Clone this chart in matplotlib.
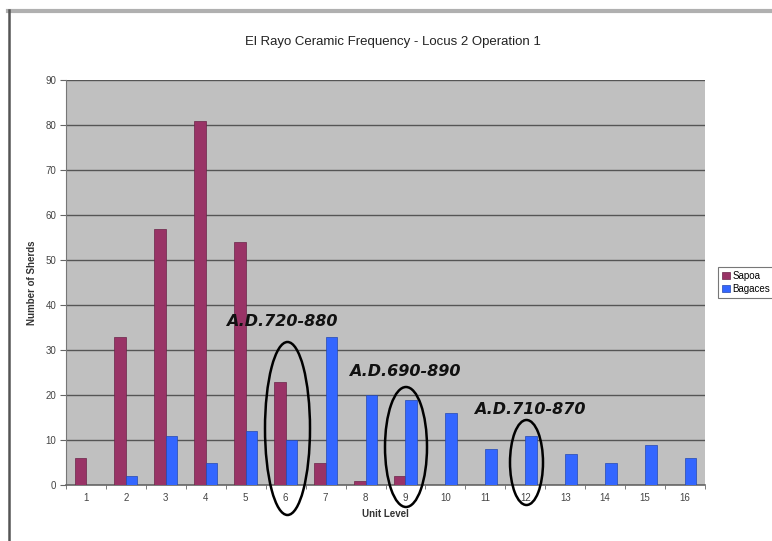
import matplotlib
matplotlib.use("Agg")
import matplotlib.pyplot as plt
from matplotlib.patches import Ellipse
from matplotlib.lines import Line2D
import numpy as np

plt.rcParams['font.family'] = ['Liberation Sans', 'DejaVu Sans']

levels = [str(i) for i in range(1, 17)]
sapoa = [6, 33, 57, 81, 54, 23, 5, 1, 2, 0, 0, 0, 0, 0, 0, 0]
bagaces = [0, 2, 11, 5, 12, 10, 33, 20, 19, 16, 8, 11, 7, 5, 9, 6]
yticks = [0, 10, 20, 30, 40, 50, 60, 70, 80, 90]

annotations = ["A.D.720-880", "A.D.690-890", "A.D.710-870"]

W, H = 772, 541
fig = plt.figure(figsize=(W / 100, H / 100), dpi=100)
fig.patch.set_facecolor('white')

left, right, top, bottom = 66, 705, 80, 485
ax = fig.add_axes([left / W, 1 - bottom / H, (right - left) / W, (bottom - top) / H])
ax.set_facecolor('#c0c0c0')

x = np.arange(1, 17)
bw = 1 / 3.5
ax.bar(x - bw / 2, sapoa, width=bw, color='#993366', edgecolor='#6a2448', linewidth=0.5, label='Sapoa', zorder=3)
ax.bar(x + bw / 2, bagaces, width=bw, color='#3366ff', edgecolor='#2448b0', linewidth=0.5, label='Bagaces', zorder=3)

ax.set_xlim(0.5, 16.5)
ax.set_ylim(0, 90)
ax.set_yticks(yticks)
ax.set_yticklabels([str(v) for v in yticks], fontsize=7, color='#444444')
ax.set_xticks(x)
ax.set_xticklabels(levels, fontsize=7, color='#444444')
ax.set_xticks(np.arange(0.5, 17, 1), minor=True)
ax.tick_params(axis='x', which='major', length=0, pad=6)
ax.tick_params(axis='x', which='minor', length=3, color='#666666', direction='out')
ax.tick_params(axis='y', length=4, color='#666666', direction='out', pad=3)
ax.grid(axis='y', color='#555555', linewidth=1.0, zorder=1)
for s in ['top', 'right']:
    ax.spines[s].set_visible(False)
ax.spines['left'].set_color('#777777')
ax.spines['bottom'].set_color('#666666')
ax.spines['bottom'].set_linewidth(1.2)

ax.set_xlabel('Unit Level', fontsize=7, fontweight='bold', color='#333333', labelpad=4)
ax.set_ylabel('Number of Sherds', fontsize=7, fontweight='bold', color='#333333', labelpad=6)
fig.text(393 / W, 1 - 42 / H, 'El Rayo Ceramic Frequency - Locus 2 Operation 1',
         ha='center', va='center', fontsize=9.5, color='#222222')

# ellipses (data coords)
def px2x(p):
    return (p - left) / ((right - left) / 16) + 0.5

def px2y(p):
    return (bottom - p) / ((bottom - top) / 90)

ells = [(265, 310, 342, 515), (385, 427, 387, 507), (510, 543, 420, 505)]
for (x0, x1, y0, y1) in ells:
    cx = (px2x(x0) + px2x(x1)) / 2
    cy = (px2y(y0) + px2y(y1)) / 2
    e = Ellipse((cx, cy), px2x(x1) - px2x(x0), px2y(y0) - px2y(y1), fill=False,
                edgecolor='black', linewidth=1.8, clip_on=False, zorder=5)
    ax.add_patch(e)

text_pos = [(282, 322), (405, 372), (530, 410)]
for t, (tx, ty) in zip(annotations, text_pos):
    ax.text(px2x(tx), px2y(ty), t, ha='center', va='center', fontsize=11.5,
            fontweight='bold', fontstyle='italic', color='#111111', zorder=6,
            family=['DejaVu Sans'])

leg = fig.legend(loc='upper left', bbox_to_anchor=(713 / W, 1 - 262 / H), fontsize=7,
                 frameon=True, fancybox=False, edgecolor='#555555', handlelength=0.8,
                 handleheight=0.8, borderpad=0.4, labelspacing=0.3, handletextpad=0.3)
leg.get_frame().set_linewidth(0.8)

# outer frame
fig.add_artist(Line2D([8 / W, 1], [1 - 11 / H, 1 - 11 / H], color='#b0b0b0', linewidth=3, transform=fig.transFigure))
fig.add_artist(Line2D([9 / W, 9 / W], [0, 1 - 10 / H], color='#555555', linewidth=1.8, transform=fig.transFigure))

fig.savefig('out.png', dpi=100, facecolor='white')
